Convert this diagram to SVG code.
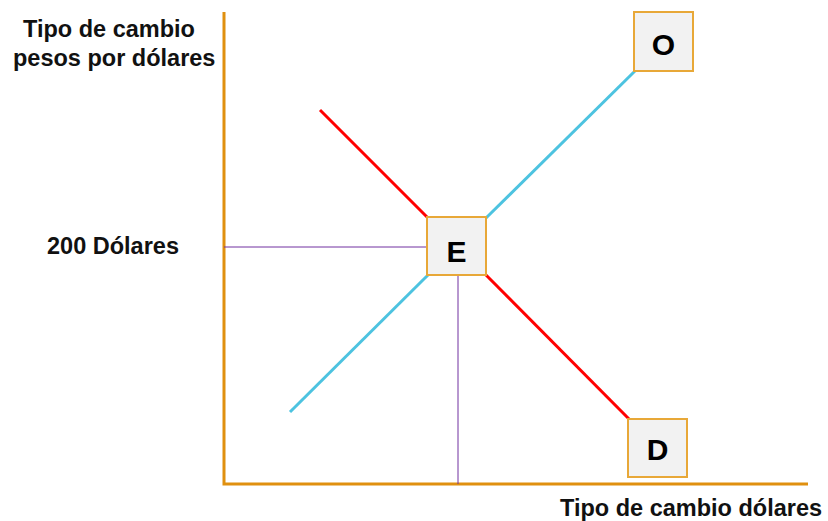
<svg xmlns="http://www.w3.org/2000/svg" width="828" height="521" viewBox="0 0 828 521">
<style>
.lbl{font-family:"Liberation Sans",Arial,sans-serif;font-weight:bold;font-size:23.5px;fill:#111}
.box{fill:#f2f2f2;stroke:#e8a838;stroke-width:2}
.bt{font-family:"Liberation Sans",Arial,sans-serif;font-weight:bold;font-size:30px;fill:#000;text-anchor:middle}
.axis{stroke:#e0900f;stroke-width:3;fill:none}
.red{stroke:#ff0000;stroke-width:3;fill:none}
.blue{stroke:#4dc3e0;stroke-width:3;fill:none}
.guide{stroke:#7030a0;stroke-width:1;fill:none}
</style>
<rect width="828" height="521" fill="#ffffff"/>
<g id="connectors">
<path class="axis" d="M224,12 V484 H808"/>
<path class="guide" d="M224,247 H427"/>
<path class="guide" d="M458,275 V484"/>
<path class="red" d="M320,110 L428,218"/>
<path class="red" d="M486,275 L630,420"/>
<path class="blue" d="M290,412 L428,275"/>
<path class="blue" d="M486,218 L636,70"/>
</g>
<g id="labels">
<text class="lbl" x="23" y="37">Tipo de cambio</text>
<text class="lbl" x="13" y="66">pesos por dólares</text>
<text class="lbl" x="47" y="254">200 Dólares</text>
<text class="lbl" x="560" y="516">Tipo de cambio dólares</text>
</g>
<g id="node-E">
<rect class="box" x="427" y="217" width="59" height="58"/>
<text class="bt" x="456.5" y="262">E</text>
</g>
<g id="node-O">
<rect class="box" x="634" y="12" width="59" height="59"/>
<text class="bt" x="663.5" y="55">O</text>
</g>
<g id="node-D">
<rect class="box" x="628" y="419" width="59" height="58"/>
<text class="bt" x="657.5" y="460">D</text>
</g>
</svg>
